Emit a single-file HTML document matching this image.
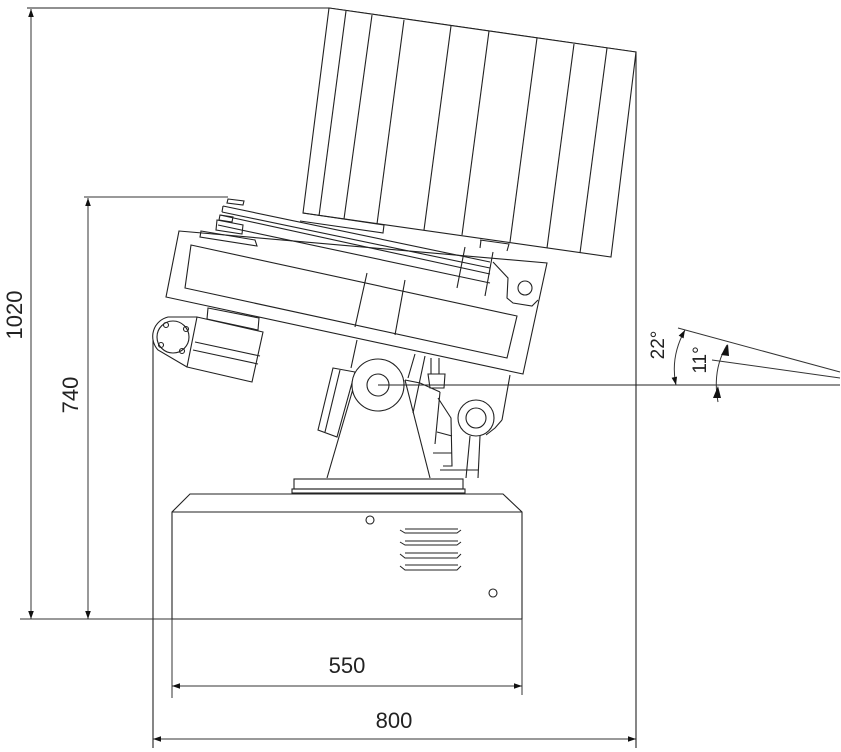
<!DOCTYPE html>
<html><head><meta charset="utf-8"><style>html,body{margin:0;padding:0;background:#fff}svg{display:block}text{font-family:"Liberation Sans",Arial,sans-serif}</style></head>
<body>
<svg width="841" height="752" viewBox="0 0 841 752" xmlns="http://www.w3.org/2000/svg">
<defs>
<marker id="a" viewBox="0 0 10 10" refX="10" refY="5" markerWidth="10" markerHeight="8" markerUnits="userSpaceOnUse" orient="auto-start-reverse"><path d="M0,1.5 L10,5 L0,8.5 Z" fill="#111"/></marker>
</defs>
<g fill="none" stroke="#222" stroke-width="1.1">
<polyline points="27,8 329,8 636,52"/>
<polygon points="329,8 636,52 611,257 303,213" fill="#fff"/>
<line x1="346" y1="11" x2="319" y2="216"/>
<line x1="372" y1="15" x2="344" y2="219"/>
<line x1="404" y1="20" x2="377" y2="224"/>
<line x1="451" y1="26" x2="424" y2="230"/>
<line x1="489" y1="31" x2="462" y2="235"/>
<line x1="537" y1="38" x2="510" y2="242"/>
<line x1="574" y1="44" x2="547" y2="248"/>
<line x1="607" y1="48" x2="580" y2="253"/>
<polyline points="303,213 384,225 383,233 300,221"/>
<line x1="636" y1="52" x2="636" y2="748"/>
<polygon points="228,199 244,201 243,205 227,203"/>
<line x1="223" y1="206" x2="490" y2="262"/>
<line x1="223" y1="206" x2="222" y2="212"/>
<line x1="222" y1="212" x2="490" y2="268"/>
<line x1="220" y1="215" x2="490" y2="274"/>
<polygon points="220,215 233,217 232,222 219,220"/>
<line x1="218" y1="225" x2="490" y2="283"/>
<polygon points="217,220 243,225 242,234 216,230"/>
<polygon points="201,231 255,240 257,246 200,237"/>
<polygon points="179,231 547,263 523,374 166,297"/>
<polygon points="191,245 517,316 507,358 185,288"/>
<line x1="465" y1="247" x2="457" y2="288"/>
<line x1="481" y1="240" x2="480" y2="248"/>
<polyline points="480,240 509,244 507,251"/>
<line x1="493" y1="252" x2="485" y2="296"/>
<polyline points="493,262 508,278 507,298 513,303 532,306 538,300"/>
<circle cx="525" cy="288" r="7"/>
<line x1="367" y1="273" x2="355" y2="327"/>
<line x1="405" y1="280" x2="395" y2="335"/>
<polygon points="208,308 259,318 258,330 207,319"/>
<polygon points="197,317 263,332 252,382 187,367"/>
<line x1="195" y1="342" x2="260" y2="356"/>
<line x1="193" y1="350" x2="258" y2="364"/>
<path d="M197,317 L168,317 A20,20 0 0 0 158,350 L187,367"/>
<circle cx="173" cy="337" r="16"/>
<circle cx="166" cy="325" r="2.5"/><circle cx="186" cy="329" r="2.5"/>
<circle cx="161" cy="345" r="2.5"/><circle cx="182" cy="351" r="2.5"/>
<line x1="153" y1="340" x2="153" y2="748"/>
<line x1="357" y1="340" x2="351" y2="368"/>
<line x1="355" y1="382" x2="327" y2="478"/>
<line x1="405" y1="380" x2="430" y2="478"/>
<polygon points="333,368 355,372 337,437 318,430"/>
<line x1="340" y1="370" x2="325" y2="432"/>
<circle cx="378" cy="385" r="26" fill="#fff"/>
<circle cx="378" cy="385" r="11"/>
<line x1="378" y1="385" x2="840" y2="385"/>
<line x1="415" y1="354" x2="408" y2="378"/>
<line x1="425" y1="356" x2="413" y2="413"/>
<polyline points="431,358 431,374 439,374 439,358"/>
<polygon points="428,374 445,374 444,388 430,388"/>
<polyline points="405,380 420,383 440,392"/>
<line x1="440" y1="392" x2="435" y2="444"/>
<polyline points="438,398 451,418 452,466 443,466"/>
<line x1="437" y1="432" x2="452" y2="436"/>
<line x1="433" y1="453" x2="452" y2="453"/>
<line x1="440" y1="470" x2="478" y2="470"/>
<line x1="510" y1="375" x2="502" y2="420"/>
<polyline points="502,420 495,428 486,435"/>
<circle cx="476" cy="418" r="18" fill="#fff"/>
<circle cx="476" cy="418" r="10"/>
<line x1="470" y1="436" x2="466" y2="478"/>
<line x1="480" y1="436" x2="478" y2="478"/>
<rect x="294" y="479" width="169" height="10"/>
<rect x="292" y="489" width="173" height="4"/>
<polygon points="190,494 503,494 522,512 522,619 172,619 172,512"/>
<line x1="172" y1="512" x2="522" y2="512"/>
<g stroke-width="1">
<polyline points="400,530 405,533 457,533 461,530"/><line x1="405" y1="529" x2="458" y2="529"/>
<polyline points="400,542 405,545 457,545 461,542"/><line x1="405" y1="541" x2="458" y2="541"/>
<polyline points="400,554 405,558 457,558 461,554"/><line x1="405" y1="553" x2="458" y2="553"/>
<polyline points="400,566 405,570 457,570 461,566"/><line x1="405" y1="565" x2="458" y2="565"/>
</g>
<circle cx="370" cy="520" r="4"/>
<circle cx="493" cy="593" r="4"/>
</g>
<g fill="none" stroke="#333" stroke-width="1">
<line x1="20" y1="619" x2="172" y2="619"/>
<line x1="84" y1="197" x2="228" y2="197"/>
<line x1="31" y1="9" x2="31" y2="619" marker-start="url(#a)" marker-end="url(#a)"/>
<line x1="88" y1="198" x2="88" y2="619" marker-start="url(#a)" marker-end="url(#a)"/>
<line x1="172" y1="619" x2="172" y2="698"/>
<line x1="522" y1="619" x2="522" y2="695"/>
<line x1="172" y1="686" x2="522" y2="686" marker-start="url(#a)" marker-end="url(#a)"/>
<line x1="153" y1="739" x2="636" y2="739" marker-start="url(#a)" marker-end="url(#a)"/>
<line x1="678" y1="328" x2="840" y2="372"/>
<line x1="712" y1="360" x2="840" y2="378"/>
<path d="M685,330 Q670,357 676,385" marker-start="url(#a)" marker-end="url(#a)"/>
<path d="M727,345 Q712,370 718,402"/>
</g>
<path d="M721,355 L728,344 L729,356 Z" fill="#111"/>
<path d="M713,398 L718,386 L721,398 Z" fill="#111"/>
<g font-size="22" fill="#222" text-anchor="middle">
<text x="347" y="673">550</text>
<text x="394" y="728">800</text>
<text transform="translate(22,315) rotate(-90)">1020</text>
<text transform="translate(78,395) rotate(-90)">740</text>
<text transform="translate(664,345) rotate(-90)" font-size="19">22°</text>
<text transform="translate(706,360) rotate(-90)" font-size="19">11°</text>
</g>
</svg>
</body></html>
